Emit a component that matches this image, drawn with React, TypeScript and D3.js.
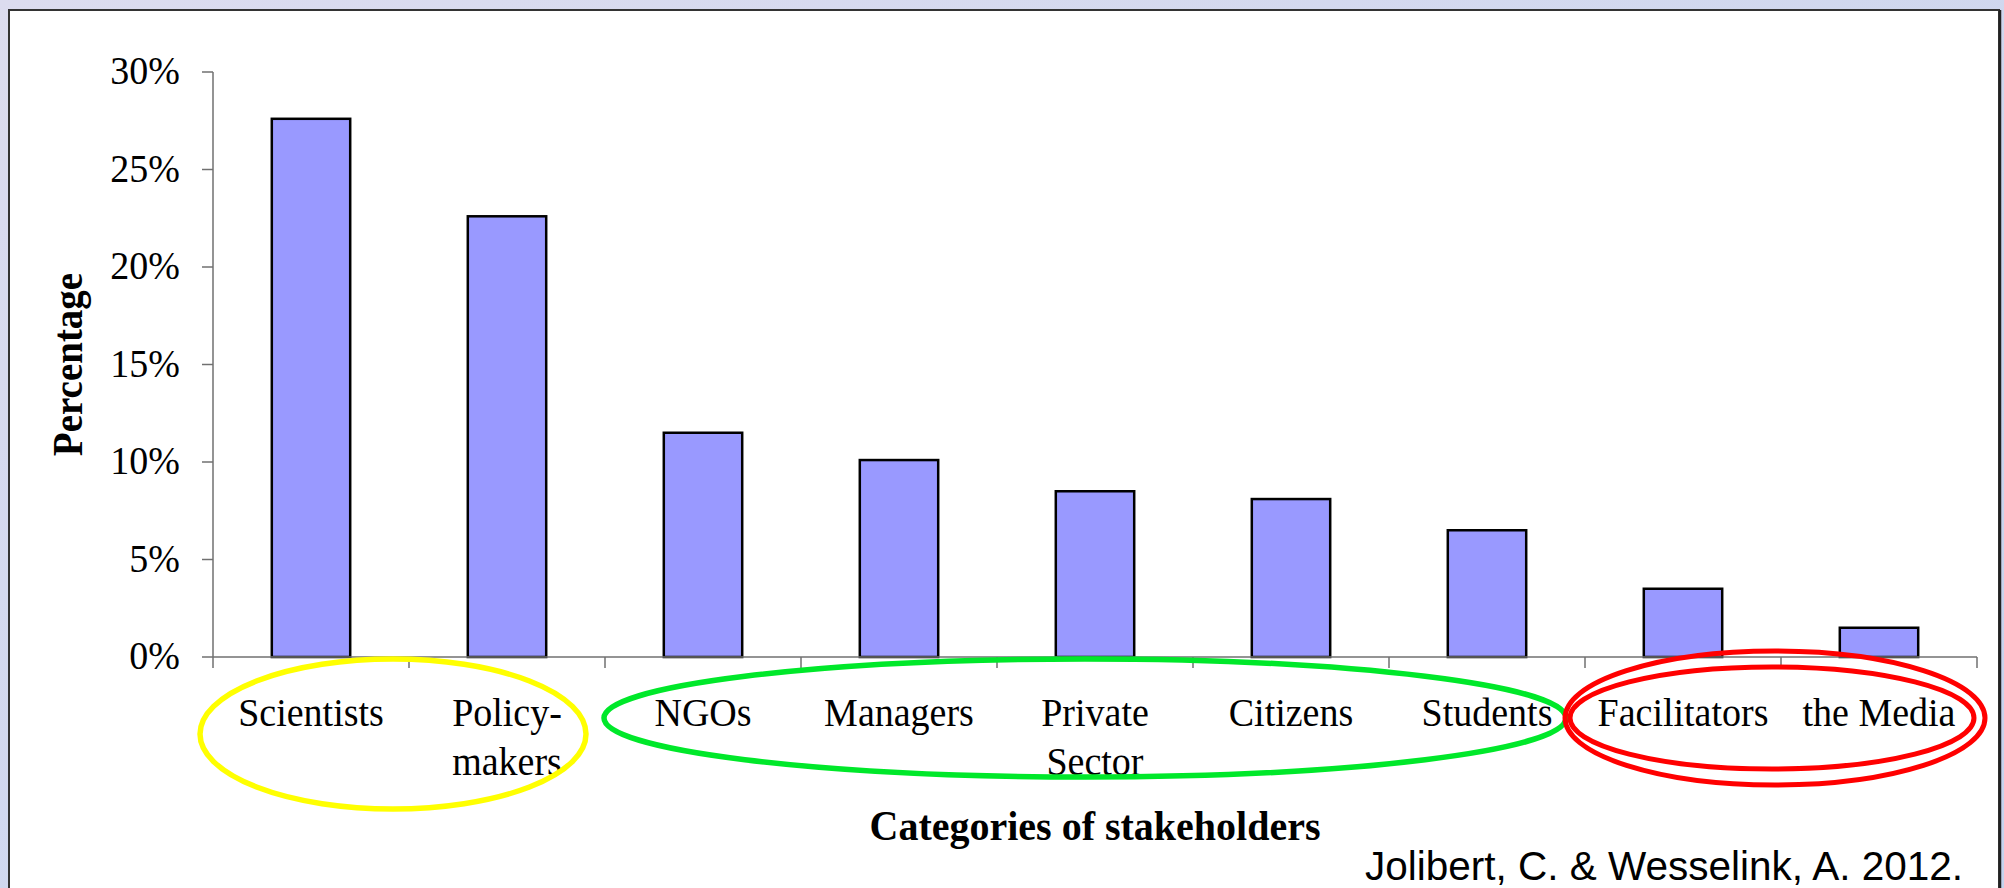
import React from 'react';
import * as d3 from 'd3';

// data
const categories = ['Scientists', 'Policy-makers', 'NGOs', 'Managers', 'Private Sector', 'Citizens', 'Students', 'Facilitators', 'the Media'];
const labelLines = [['Scientists'], ['Policy-', 'makers'], ['NGOs'], ['Managers'], ['Private', 'Sector'], ['Citizens'], ['Students'], ['Facilitators'], ['the Media']];
const percentages = [27.6, 22.6, 11.5, 10.1, 8.5, 8.1, 6.5, 3.5, 1.5];
const yTicks = [0, 5, 10, 15, 20, 25, 30];

// hand drawn rings around groups of categories: [first, last, colour]
const groups: [number, number, string][] = [
  [0, 1, '#ffff00'],
  [2, 6, '#00e82a'],
  [7, 8, '#ff0000'],
];

const W = 2004;
const H = 888;
const margin = {left: 213, right: 27, top: 72, bottom: 231};

const serif = '"Liberation Serif", "Times New Roman", serif';
const sans = '"Liberation Sans", Arial, sans-serif';
const stretch = 'scale(1,1.08)'; // the original lettering is a bit taller than times

export default function App() {
  const x = d3.scaleBand<string>()
    .domain(categories)
    .range([margin.left, W - margin.right]);
  const y = d3.scaleLinear()
    .domain([0, 30])
    .range([H - margin.bottom, margin.top]);

  const step = x.bandwidth();
  const barW = step / 2.5; // excel gap width 150%
  const y0 = y(0);

  // ellipse geometry tweaked by eye
  const ring = (g: [number, number, string], i: number) => {
    const left = x(categories[g[0]])!;
    const right = x(categories[g[1]])! + step;
    const cx = (left + right) / 2;
    const half = (right - left) / 2;
    if (i === 0) return [<ellipse key="y" cx={cx - 16} cy={y0 + 77} rx={half - 3} ry={75} fill="none" stroke={g[2]} strokeWidth={5.5} />];
    if (i === 1) return [<ellipse key="g" cx={cx - 10} cy={y0 + 61} rx={half - 9} ry={59} fill="none" stroke={g[2]} strokeWidth={5.5} />];
    return [
      <ellipse key="r1" cx={cx - 6} cy={y0 + 61} rx={half + 14} ry={67} fill="none" stroke={g[2]} strokeWidth={5} />,
      <ellipse key="r2" cx={cx - 9} cy={y0 + 61} rx={half + 6} ry={51} fill="none" stroke={g[2]} strokeWidth={5} />,
    ];
  };

  return (
    <svg width={W} height={H} style={{position: 'absolute', left: 0, top: 0, display: 'block'}}>
      <defs>
        <linearGradient id="bg" x1="0" y1="0" x2="1" y2="1">
          <stop offset="0" stopColor="#dcdcef" />
          <stop offset="1" stopColor="#c4d3ee" />
        </linearGradient>
      </defs>
      <rect x={0} y={0} width={W} height={H} fill="url(#bg)" />
      <rect x={9} y={10} width={1990} height={H + 20} fill="#fff" stroke="#333" strokeWidth={2} />
      <line x1={2000} x2={2000} y1={10} y2={H} stroke="#222" strokeWidth={2.5} />

      {/* y axis */}
      <line x1={margin.left} x2={margin.left} y1={y(30)} y2={y0} stroke="#707070" strokeWidth={1.5} />
      {yTicks.map(t => (
        <g key={t}>
          <line x1={margin.left - 11} x2={margin.left} y1={y(t)} y2={y(t)} stroke="#707070" strokeWidth={1.5} />
          <text transform={`translate(180,${y(t) + 12}) ${stretch}`} textAnchor="end" fontFamily={serif} fontSize={38} fill="#000">{t + '%'}</text>
        </g>
      ))}

      {/* bars */}
      {categories.map((c, i) => (
        <rect key={c}
          x={x(c)! + (step - barW) / 2}
          y={y(percentages[i])}
          width={barW}
          height={y0 - y(percentages[i])}
          fill="#9999ff" stroke="#000" strokeWidth={2.5} />
      ))}

      {/* x axis */}
      <line x1={margin.left} x2={W - margin.right} y1={y0} y2={y0} stroke="#707070" strokeWidth={1.5} />
      {categories.map(c => x(c)!).concat([W - margin.right]).map((px, i) => (
        <line key={i} x1={px} x2={px} y1={y0} y2={y0 + 11} stroke="#707070" strokeWidth={1.5} />
      ))}
      {categories.map((c, i) => (
        <g key={c}>
          {labelLines[i].map((s, j) => (
            <text key={j} transform={`translate(${x(c)! + step / 2},${y0 + 69 + j * 49}) ${stretch}`}
              textAnchor="middle" fontFamily={serif} fontSize={38} fill="#000">{s}</text>
          ))}
        </g>
      ))}

      {groups.map((g, i) => ring(g, i))}

      {/* titles */}
      <text transform={`translate(${(margin.left + W - margin.right) / 2},840) ${stretch}`} textAnchor="middle" fontFamily={serif} fontWeight="bold" fontSize={40} fill="#000">Categories of stakeholders</text>
      <text transform={`translate(82,${(y(30) + y0) / 2}) rotate(-90) ${stretch}`} textAnchor="middle" fontFamily={serif} fontWeight="bold" fontSize={39} fill="#000">Percentage</text>
      <text x={1963} y={880} textAnchor="end" fontFamily={sans} fontSize={40.5} fill="#000">Jolibert, C. &amp; Wesselink, A. 2012.</text>
    </svg>
  );
}
